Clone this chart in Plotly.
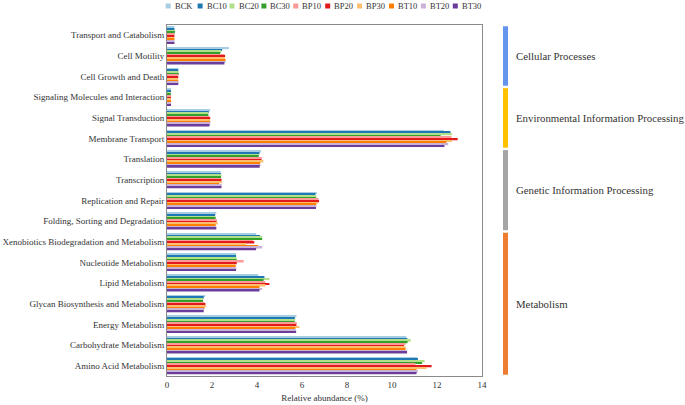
import plotly.graph_objects as go

categories = [
    "Transport and Catabolism", "Cell Motility", "Cell Growth and Death",
    "Signaling Molecules and Interaction", "Signal Transduction", "Membrane Transport",
    "Translation", "Transcription", "Replication and Repair",
    "Folding, Sorting and Degradation", "Xenobiotics Biodegradation and Metabolism",
    "Nucleotide Metabolism", "Lipid Metabolism", "Glycan Biosynthesis and Metabolism",
    "Energy Metabolism", "Carbohydrate Metabolism", "Amino Acid Metabolism",
]

series_names = ["BCK", "BC10", "BC20", "BC30", "BP10", "BP20", "BP30", "BT10", "BT20", "BT30"]

BCK  = [0.33, 2.75, 0.50, 0.18, 1.92, 12.30, 4.18, 2.38, 6.66, 2.19, 3.96, 3.07, 4.05, 1.70, 5.75, 10.63, 11.12]
BC10 = [0.33, 2.45, 0.50, 0.18, 1.86, 12.60, 4.11, 2.40, 6.60, 2.14, 4.14, 3.07, 4.33, 1.63, 5.68, 10.68, 11.15]
BC20 = [0.36, 2.41, 0.52, 0.17, 1.84, 12.67, 4.08, 2.42, 6.64, 2.16, 4.23, 3.10, 4.55, 1.60, 5.70, 10.83, 11.45]
BC30 = [0.35, 2.37, 0.52, 0.17, 1.84, 12.16, 4.08, 2.40, 6.63, 2.16, 4.23, 3.10, 4.29, 1.60, 5.68, 10.69, 11.34]
BP10 = [0.33, 2.56, 0.50, 0.18, 1.89, 12.64, 4.22, 2.42, 6.74, 2.22, 3.81, 3.41, 4.37, 1.67, 5.77, 10.60, 11.04]
BP20 = [0.33, 2.58, 0.50, 0.18, 1.92, 12.92, 4.20, 2.42, 6.76, 2.20, 3.88, 3.10, 4.55, 1.71, 5.75, 10.53, 11.76]
BP30 = [0.33, 2.58, 0.50, 0.17, 1.92, 12.67, 4.28, 2.45, 6.70, 2.26, 3.52, 3.05, 4.37, 1.74, 5.89, 10.60, 11.54]
BT10 = [0.33, 2.60, 0.50, 0.18, 1.92, 12.42, 4.14, 2.32, 6.63, 2.16, 4.05, 3.05, 4.11, 1.67, 5.70, 10.60, 11.09]
BT20 = [0.33, 2.60, 0.52, 0.18, 1.92, 12.50, 4.16, 2.43, 6.64, 2.19, 4.23, 3.08, 4.23, 1.65, 5.74, 10.66, 11.15]
BT30 = [0.33, 2.55, 0.50, 0.18, 1.89, 12.33, 4.12, 2.42, 6.62, 2.19, 3.96, 3.07, 4.11, 1.63, 5.74, 10.67, 11.09]
series_values = [BCK, BC10, BC20, BC30, BP10, BP20, BP30, BT10, BT20, BT30]

series_colors = ["#a6cee3", "#1f78b4", "#b2df8a", "#33a02c", "#fb9a99",
                 "#e31a1c", "#fdbf6f", "#ff7f00", "#cab2d6", "#6a3d9a"]

groups = ["Cellular Processes", "Environmental Information Processing",
          "Genetic Information Processing", "Metabolism"]
group_sizes = [3, 3, 4, 7]
group_colors = ["#6495ED", "#FFC000", "#A5A5A5", "#ED7D31"]

W, H = 685, 405
L, R, T, B = 167, 203, 25, 29
pw, ph = W - L - R, H - T - B
FONT = "'Liberation Serif', 'Times New Roman', serif"
TXT = "#333333"

fig = go.Figure()
for name, vals, col in zip(series_names, series_values, series_colors):
    fig.add_trace(go.Bar(y=categories, x=vals, orientation="h", name=name,
                         marker=dict(color=col, line=dict(width=0)),
                         showlegend=False))

fig.update_layout(
    width=W, height=H,
    margin=dict(l=L, r=R, t=T, b=B, autoexpand=False),
    barmode="group", bargap=0.18, bargroupgap=0,
    plot_bgcolor="white", paper_bgcolor="white",
    font=dict(family=FONT, size=9, color=TXT),
    showlegend=False,
)
fig.update_xaxes(range=[0, 14], dtick=2, showgrid=False, zeroline=False,
                 showline=True, linecolor="#8a8a8a", linewidth=1, mirror=True,
                 ticks="", tickfont=dict(size=9, family=FONT, color=TXT),
                 title=dict(text="Relative abundance (%)",
                            font=dict(size=9, family=FONT, color=TXT), standoff=5))
fig.update_yaxes(autorange="reversed", showgrid=False, zeroline=False,
                 showline=True, linecolor="#8a8a8a", linewidth=1, mirror=True,
                 ticks="", tickfont=dict(size=9, family=FONT, color=TXT))

def px2paper_x(px):
    return (px - L) / pw

# group bars on the right
start = 0
for gname, size, gcol in zip(groups, group_sizes, group_colors):
    inset = 0.06
    fig.add_shape(type="rect", xref="paper", yref="y",
                  x0=px2paper_x(503), x1=px2paper_x(508),
                  y0=start - 0.5 + inset, y1=start + size - 0.5 - inset,
                  fillcolor=gcol, line=dict(width=0))
    fig.add_annotation(x=px2paper_x(514), y=start + (size - 1) / 2, xref="paper", yref="y",
                       text=gname, showarrow=False, xanchor="left", yanchor="middle",
                       font=dict(size=10.8, family=FONT, color=TXT))
    start += size

# compact legend
leg_y = (H - B - 6) / ph
for i, (name, col) in enumerate(zip(series_names, series_colors)):
    px = 165.7 + i * 31.9
    fig.add_shape(type="rect", xref="paper", yref="paper",
                  xsizemode="pixel", ysizemode="pixel",
                  xanchor=px2paper_x(px), yanchor=leg_y,
                  x0=0, x1=5, y0=-2.5, y1=2.5,
                  fillcolor=col, line=dict(width=0))
    fig.add_annotation(x=px2paper_x(px + 7), y=leg_y, xref="paper", yref="paper",
                       text=name, showarrow=False, xanchor="left", yanchor="middle",
                       font=dict(size=8.5, family=FONT, color=TXT))

fig.write_html("out.html", config={"displayModeBar": False},
               post_script="document.body.style.margin='0';document.body.style.padding='0';")
